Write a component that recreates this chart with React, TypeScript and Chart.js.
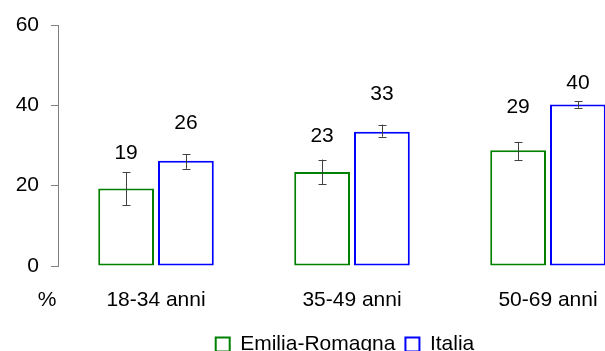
import React, { useEffect, useRef } from "react";
import { Chart, registerables } from "chart.js";

Chart.register(...registerables);

const categories = ["18-34 anni", "35-49 anni", "50-69 anni"];
const seriesNames = ["Emilia-Romagna", "Italia"];
const emiliaValues = [19.3, 23.4, 28.8];
const italiaValues = [26.2, 33.4, 40.2];
const emiliaLow = [15.1, 20.3, 26.4];
const emiliaHigh = [23.4, 26.5, 30.9];
const italiaLow = [24.2, 32.2, 39.4];
const italiaHigh = [27.8, 35.2, 41.0];
const emiliaLabels = ["19", "23", "29"];
const italiaLabels = ["26", "33", "40"];
const yTicks = [0, 20, 40, 60];
const unitLabel = "%";

const FONT = "'Liberation Sans', Arial, sans-serif";
const FONT_SIZE = 21;
// pixel distance of each value label above its bar top (style)
const labelOffsets = [
  [35, 36, 43],
  [38, 38, 21],
];

const errorBarPlugin = {
  id: "errorBarsAndLabels",
  afterDatasetsDraw(chart: any) {
    const ctx = chart.ctx;
    const yScale = chart.scales.y;
    const lows = [emiliaLow, italiaLow];
    const highs = [emiliaHigh, italiaHigh];
    const labels = [emiliaLabels, italiaLabels];
    ctx.save();
    chart.data.datasets.forEach((_: any, di: number) => {
      const meta = chart.getDatasetMeta(di);
      meta.data.forEach((el: any, i: number) => {
        const x = Math.round(el.x) + 0.5;
        const yLo = yScale.getPixelForValue(lows[di][i]);
        const yHi = yScale.getPixelForValue(highs[di][i]);
        ctx.strokeStyle = "#404040";
        ctx.lineWidth = 1;
        ctx.beginPath();
        ctx.moveTo(x, yLo);
        ctx.lineTo(x, yHi);
        ctx.moveTo(x - 4, Math.round(yLo) + 0.5);
        ctx.lineTo(x + 4, Math.round(yLo) + 0.5);
        ctx.moveTo(x - 4, Math.round(yHi) + 0.5);
        ctx.lineTo(x + 4, Math.round(yHi) + 0.5);
        ctx.stroke();
        ctx.fillStyle = "#000000";
        ctx.font = `${FONT_SIZE}px ${FONT}`;
        ctx.textAlign = "center";
        ctx.textBaseline = "middle";
        ctx.fillText(labels[di][i], el.x, el.y - labelOffsets[di][i]);
      });
    });
    ctx.fillStyle = "#000000";
    ctx.font = `${FONT_SIZE}px ${FONT}`;
    ctx.textAlign = "center";
    ctx.textBaseline = "middle";
    ctx.fillText(unitLabel, 47, chart.chartArea.bottom + 34);
    ctx.restore();
  },
};

export default function App() {
  const canvasRef = useRef<HTMLCanvasElement | null>(null);

  useEffect(() => {
    if (!canvasRef.current) return;
    const chart = new Chart(canvasRef.current, {
      type: "bar",
      data: {
        labels: categories,
        datasets: [
          {
            label: seriesNames[0],
            data: emiliaValues,
            backgroundColor: "#ffffff",
            borderColor: "#008000",
            borderWidth: 2,
            borderSkipped: false,
            categoryPercentage: 0.61,
            barPercentage: 0.933,
          },
          {
            label: seriesNames[1],
            data: italiaValues,
            backgroundColor: "#ffffff",
            borderColor: "#0000ff",
            borderWidth: 2,
            borderSkipped: false,
            categoryPercentage: 0.61,
            barPercentage: 0.933,
          },
        ],
      },
      options: {
        responsive: false,
        animation: false,
        devicePixelRatio: 1,
        layout: { padding: { left: 0, right: 0, top: 25, bottom: 0 } },
        plugins: {
          legend: {
            position: "bottom",
            labels: {
              boxWidth: 14,
              boxHeight: 14,
              padding: 10,
              color: "#000000",
              font: { family: FONT, size: FONT_SIZE },
            },
          },
          tooltip: { enabled: false },
        },
        scales: {
          x: {
            grid: { display: false, drawTicks: false },
            border: { display: false },
            ticks: {
              color: "#000000",
              padding: 22,
              font: { family: FONT, size: FONT_SIZE },
            },
            afterFit(scale: any) {
              scale.height = 58;
            },
          },
          y: {
            min: 0,
            max: 60,
            afterBuildTicks(scale: any) {
              scale.ticks = yTicks.map((v) => ({ value: v }));
            },
            grid: {
              display: true,
              drawOnChartArea: false,
              drawTicks: true,
              tickLength: 7,
              color: "#808080",
            },
            border: { display: true, color: "#808080", width: 1 },
            ticks: {
              color: "#000000",
              padding: 12,
              font: { family: FONT, size: FONT_SIZE },
            },
            afterFit(scale: any) {
              scale.width = 58;
            },
          },
          spacer: {
            type: "linear",
            position: "right",
            display: true,
            grid: { display: false, drawTicks: false },
            border: { display: false },
            ticks: { display: false },
            afterFit(scale: any) {
              scale.width = 44;
            },
          },
        },
      },
      plugins: [errorBarPlugin],
    });
    return () => chart.destroy();
  }, []);

  return (
    <div
      style={{
        position: "fixed",
        left: 0,
        top: 0,
        width: 605,
        height: 351,
        overflow: "hidden",
        background: "#ffffff",
      }}
    >
      <canvas ref={canvasRef} width={690} height={365} style={{ display: "block" }} />
    </div>
  );
}
